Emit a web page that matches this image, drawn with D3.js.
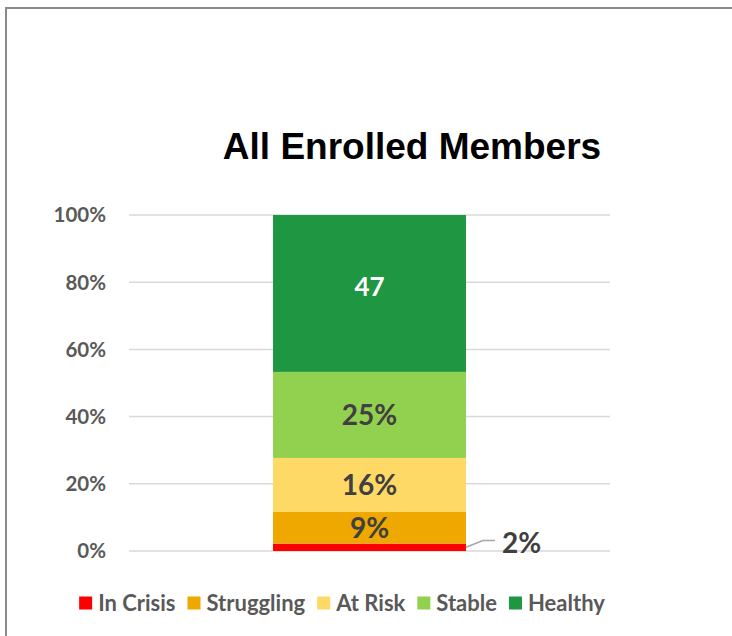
<!DOCTYPE html>
<html>
<head>
<meta charset="utf-8">
<script src="https://cdn.jsdelivr.net/npm/d3@7"></script>
<style>
  body { margin: 0; background: #fff; }
  svg text { font-family: Lato, "Open Sans", sans-serif; font-weight: bold; }
</style>
</head>
<body>
<script>
const width = 732;
const height = 636;

// data (segment shares in %, labels as printed)
const group = 'All Enrolled Members';
const categories = ['In Crisis', 'Struggling', 'At Risk', 'Stable', 'Healthy'];
const values = [2.2, 9.4, 16.1, 25.6, 46.7];
const valueLabels = ['2%', '9%', '16%', '25%', '47'];
const colors = ['#ff0000', '#eea800', '#ffd966', '#92d050', '#1e9642'];
const yTicks = [0, 0.2, 0.4, 0.6, 0.8, 1];

const svg = d3.select('body')
    .append('svg')
    .attr('width', width)
    .attr('height', height);

// chart frame (only top and left edges show)
svg.append('rect')
    .attr('x', 6).attr('y', 8)
    .attr('width', width + 10).attr('height', height + 10)
    .attr('fill', 'none')
    .attr('stroke', '#8a8a8a')
    .attr('stroke-width', 2);

const y = d3.scaleLinear().domain([0, 1]).range([551, 215]);
const x = d3.scaleBand().domain([group]).range([129, 610]).padding(0.4274);

// gridlines + tick labels
svg.append('g')
    .selectAll('line')
    .data(yTicks)
    .enter()
    .append('line')
        .attr('x1', 129).attr('x2', 610)
        .attr('y1', d => y(d)).attr('y2', d => y(d))
        .attr('stroke', '#d9d9d9')
        .attr('stroke-width', 1.5);

svg.append('g')
    .selectAll('text')
    .data(yTicks)
    .enter()
    .append('text')
        .attr('x', 106)
        .attr('y', d => y(d))
        .attr('dy', '0.36em')
        .attr('text-anchor', 'end')
        .attr('fill', '#595959')
        .style('font-size', '20.5px')
        .text(d3.format('.0%'));

// stacked 100% bar
const row = { group };
categories.forEach((c, i) => row[c] = values[i]);
const series = d3.stack().keys(categories).offset(d3.stackOffsetExpand)([row]);

svg.append('g')
    .selectAll('rect')
    .data(series)
    .enter()
    .append('rect')
        .attr('x', x(group))
        .attr('width', x.bandwidth())
        .attr('y', d => y(d[0][1]))
        .attr('height', d => y(d[0][0]) - y(d[0][1]))
        .attr('fill', (d, i) => colors[i]);

// data labels (smallest one sits outside with a leader line)
const xRight = x(group) + x.bandwidth();
svg.append('g')
    .selectAll('text')
    .data(series)
    .enter()
    .append('text')
        .attr('x', (d, i) => i === 0 ? xRight + 36 : x(group) + x.bandwidth() / 2)
        .attr('y', (d, i) => i === 0 ? y(d[0][1]) - 1
            : y((d[0][0] + d[0][1]) / 2) - (i === 4 ? 7 : 0))
        .attr('dy', '0.36em')
        .attr('text-anchor', (d, i) => i === 0 ? 'start' : 'middle')
        .attr('fill', (d, i) => i === 4 ? '#ffffff' : '#404040')
        .style('font-size', (d, i) => i === 4 ? '26px' : '28px')
        .text((d, i) => valueLabels[i]);

const s0 = series[0][0];
svg.append('polyline')
    .attr('points', [
        [xRight, y((s0[0] + s0[1]) / 2)],
        [xRight + 17, y(s0[1]) - 3],
        [xRight + 29, y(s0[1]) - 3]
    ].join(' '))
    .attr('fill', 'none')
    .attr('stroke', '#a6a6a6')
    .attr('stroke-width', 1.5);

// title
svg.append('text')
    .attr('x', 412)
    .attr('y', 159)
    .attr('text-anchor', 'middle')
    .attr('fill', '#000')
    .style('font-family', '"Liberation Sans", Arial, sans-serif')
    .style('font-size', '37px')
    .text(group);

// legend
const legend = svg.append('g').attr('transform', 'translate(0, 603)');
const items = legend.selectAll('g')
    .data(categories)
    .enter()
    .append('g');

items.append('rect')
    .attr('y', -6.5)
    .attr('width', 13).attr('height', 13)
    .attr('fill', (d, i) => colors[i]);

items.append('text')
    .attr('x', 19)
    .attr('dy', '0.36em')
    .attr('fill', '#595959')
    .style('font-size', '22px')
    .text(d => d);

// lay items out in a row, centred on the legend's middle
let offset = 0;
const offsets = [];
items.each(function() {
    offsets.push(offset);
    offset += 19 + this.querySelector('text').getComputedTextLength() + 12;
});
const total = offset - 12;
const start = 342 - total / 2;
items.attr('transform', (d, i) => `translate(${start + offsets[i]}, 0)`);
</script>
</body>
</html>
